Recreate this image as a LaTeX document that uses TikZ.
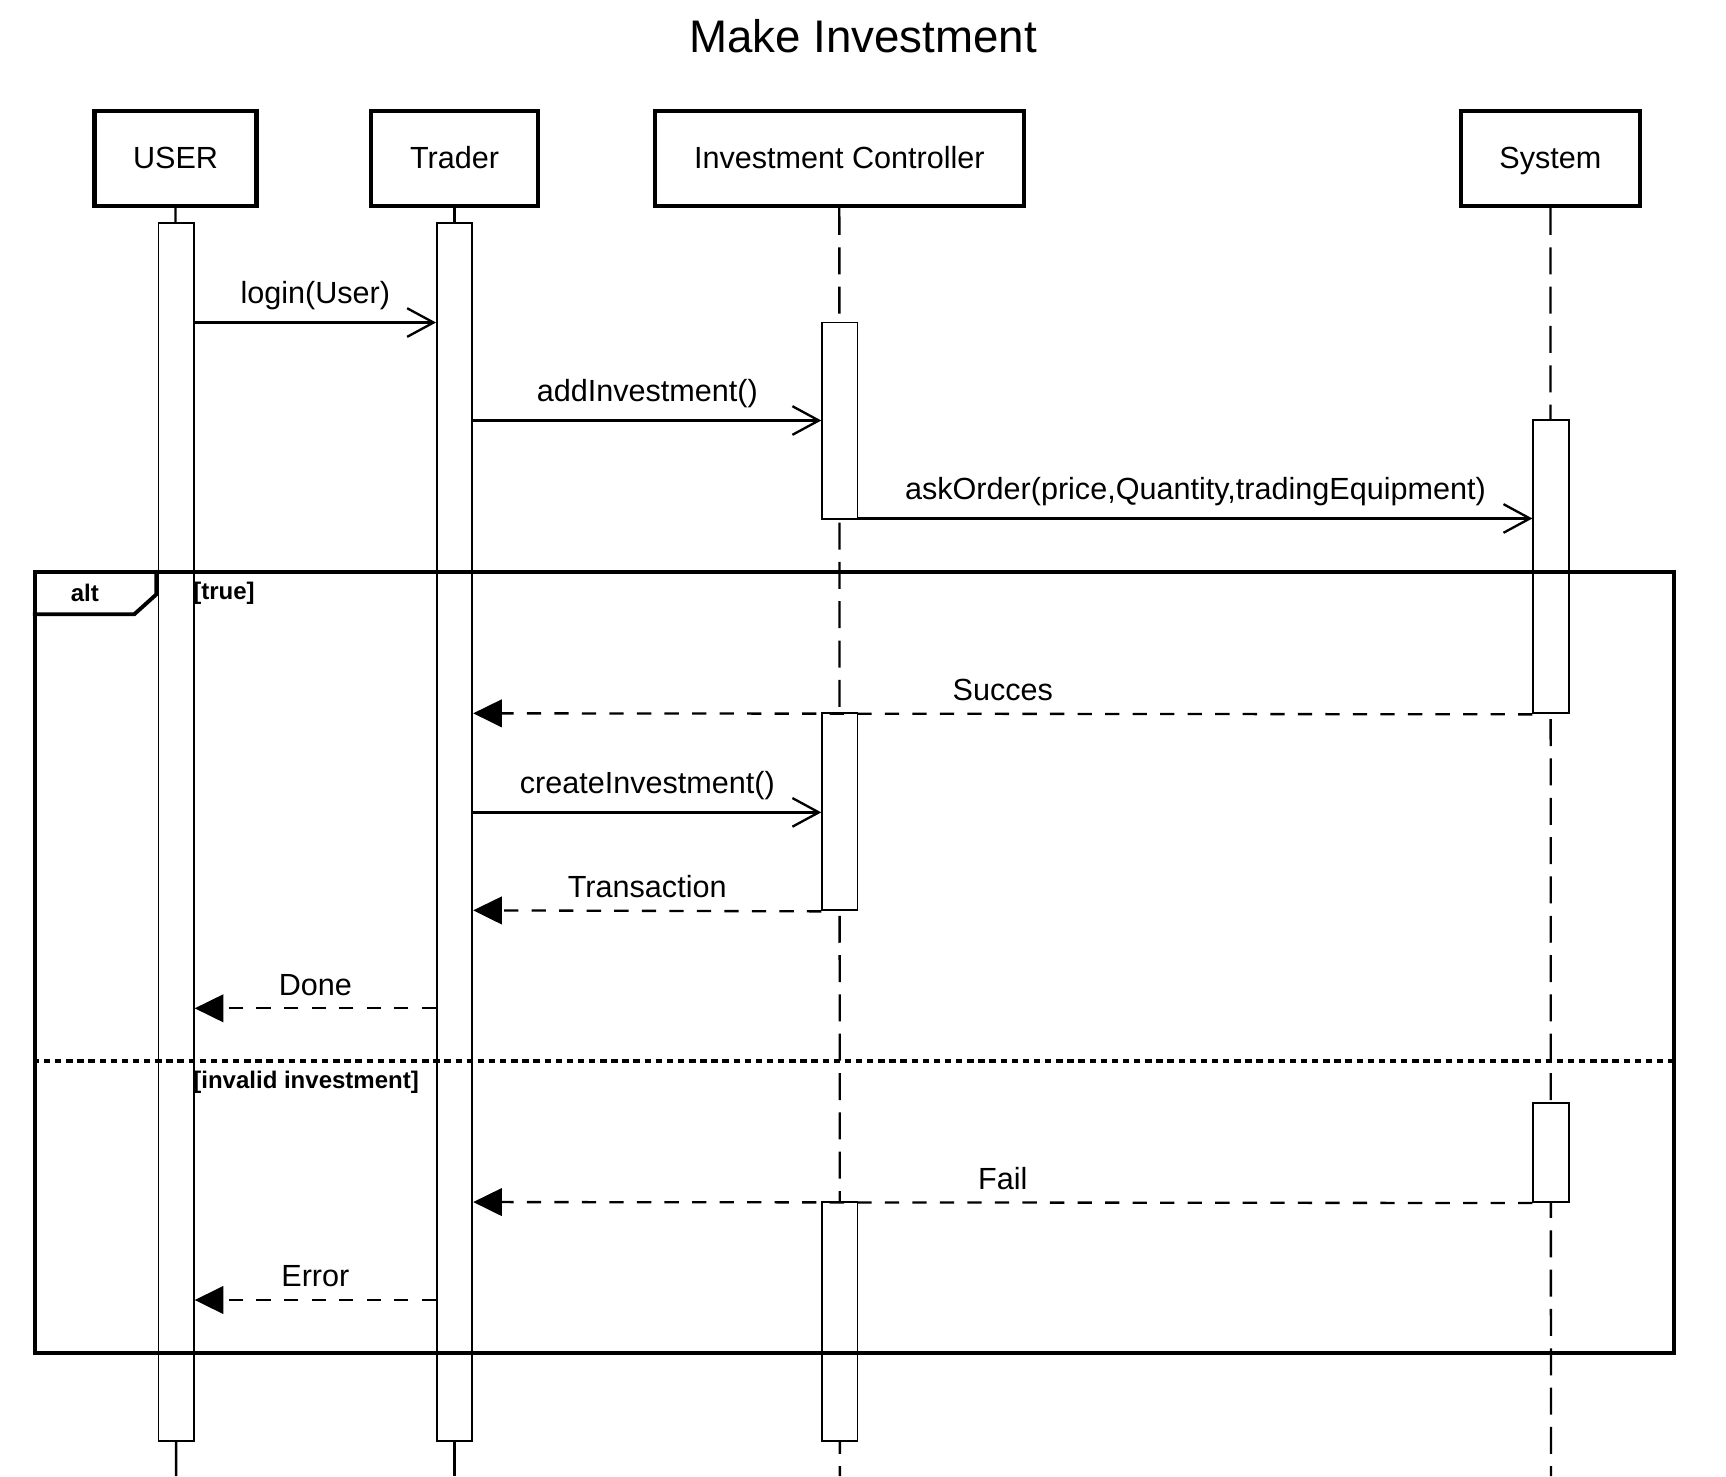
\documentclass[tikz,border=0pt]{standalone}
\usepackage{fontspec}
\setmainfont{Liberation Sans}
\usetikzlibrary{arrows.meta}

\tikzset{
  head/.style={draw, line width=1.1pt, inner sep=0, minimum height=0.86cm, text height=0.72em, text depth=0.2em, font=\fontsize{7.9}{9}\selectfont},
  act/.style={draw, fill=white, line width=0.5pt, inner sep=0, minimum width=0.32cm},
  solidlife/.style={line width=0.6pt},
  dashlife/.style={line width=0.6pt, dash pattern=on 0.245cm off 0.112cm},
  call/.style={line width=0.6pt, -{Straight Barb[length=2.4mm,width=2.6mm]}},
  reply/.style={line width=0.6pt, dash pattern=on 0.13cm off 0.12cm, -{Triangle[length=2.6mm,width=2.5mm]}},
  msglabel/.style={font=\fontsize{7.9}{9}\selectfont, inner sep=1pt, above=2pt},
  guard/.style={font=\bfseries\fontsize{6.2}{7}\selectfont, inner sep=0, anchor=west},
}

\begin{document}
\begin{tikzpicture}[x=0.01cm, y=-0.01cm]
  \useasboundingbox (0,0) rectangle (1568,1341);

  \node[font=\fontsize{11.8}{14}\selectfont] (title) at (784,33) {Make Investment};

  % Participants
  \node[head, minimum width=1.47cm] (user)   at (159.5,144) {USER};
  \node[head, minimum width=1.52cm] (trader) at (413,144)   {Trader};
  \node[head, minimum width=3.35cm] (ctrl)   at (762.5,144) {Investment Controller};
  \node[head, minimum width=1.63cm] (sys)    at (1408.5,144) {System};

  \coordinate (ubot) at (160,1341);
  \coordinate (tbot) at (413,1341);
  \coordinate (cbot) at (763,1341);
  \coordinate (sbot) at (1409,1341);

  % Lifelines
  \draw[solidlife] (user.south) -- (ubot);
  \draw[solidlife] (trader.south) -- (tbot);
  \draw[dashlife] (ctrl.south) -- (cbot);
  \draw[dashlife] (sys.south) -- (sbot);

  % Activations
  \node[act, minimum height=11.06cm] (uact)  at (160,756)    {};
  \node[act, minimum height=11.06cm] (tact)  at (413,756)    {};
  \node[act, minimum height=1.78cm]  (cact1) at (763,382)    {};
  \node[act, minimum height=1.79cm]  (cact2) at (763,737.5)  {};
  \node[act, minimum height=2.17cm]  (cact3) at (763,1200.5) {};
  \node[act, minimum height=2.66cm]  (sact1) at (1409,515)   {};
  \node[act, minimum height=0.90cm]  (sact2) at (1409,1047)  {};

  % Messages
  \draw[call] (uact.east |- 0,293) -- node[msglabel] {login(User)} (tact.west |- 0,293);
  \draw[call] (tact.east |- 0,382) -- node[msglabel] {addInvestment()} (cact1.west |- 0,382);
  \draw[call] (cact1.east |- 0,471) -- node[msglabel] {askOrder(price,Quantity,tradingEquipment)} (sact1.west |- 0,471);
  \draw[reply] (sact1.south west) -- node[msglabel] {Succes} (tact.east |- 0,648);
  \draw[call] (tact.east |- 0,738) -- node[msglabel] {createInvestment()} (cact2.west |- 0,738);
  \draw[reply] (cact2.south west) -- node[msglabel] {Transaction} (tact.east |- 0,827);
  \draw[reply] (tact.west |- 0,916) -- node[msglabel] {Done} (uact.east |- 0,916);
  \draw[reply] (sact2.south west) -- node[msglabel] {Fail} (tact.east |- 0,1092);
  \draw[reply] (tact.west |- 0,1181) -- node[msglabel] {Error} (uact.east |- 0,1181);

  % alt fragment
  \node[draw, line width=1pt, inner sep=0, minimum width=14.88cm, minimum height=7.09cm] (alt) at (776,874.5) {};
  \draw[line width=1pt] (alt.west |- 0,558) -- (122,558) -- (142,540) -- (142,520);
  \node[font=\bfseries\fontsize{6.2}{7}\selectfont, inner sep=0] (altlabel) at (77,539) {alt};
  \node[guard] (gtrue) at (175,539) {[true]};
  \draw[line width=1.1pt, dash pattern=on 0.058cm off 0.043cm] (alt.west |- 0,964) -- (alt.east |- 0,964);
  \node[guard] (gelse) at (175,983) {[invalid investment]};
\end{tikzpicture}
\end{document}
